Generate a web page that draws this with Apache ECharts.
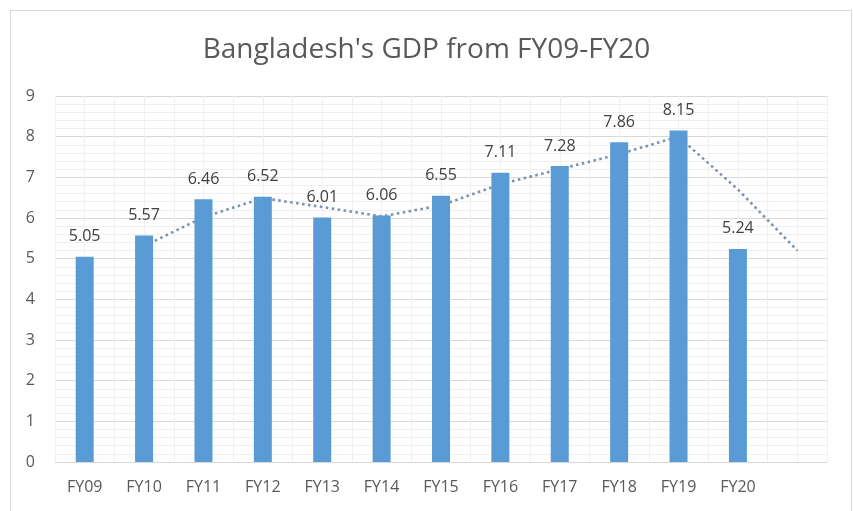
<!DOCTYPE html>
<html><head><meta charset="utf-8">
<script src="https://cdn.jsdelivr.net/npm/echarts@6/dist/echarts.min.js"></script>
<style>html,body{margin:0;padding:0;background:#fff}#c{width:853px;height:511px}</style>
</head><body><div id="c"></div>
<script>
const categories = ['FY09','FY10','FY11','FY12','FY13','FY14','FY15','FY16','FY17','FY18','FY19','FY20',''];
const gdpGrowth = [5.05,5.57,6.46,6.52,6.01,6.06,6.55,7.11,7.28,7.86,8.15,5.24,null];
const trendValues = [null,5.31,6.02,6.49,6.27,6.04,6.31,6.83,7.20,7.57,8.00,6.70,5.20];
const yTicks = [0,1,2,3,4,5,6,7,8,9];

const chart = echarts.init(document.getElementById('c'), null, {renderer:'canvas'});
const font = '"Open Sans", "Noto Sans", sans-serif';
chart.setOption({
  animation:false,
  backgroundColor:'#fff',
  graphic:[{type:'rect',shape:{x:10.5,y:10.5,width:841,height:520},style:{fill:'none',stroke:'#d9d9d9',lineWidth:1},silent:true}],
  title:{text:"Bangladesh's GDP from FY09-FY20",left:'center',top:31,
    textStyle:{fontFamily:font,fontSize:28,fontWeight:'normal',color:'#595959'}},
  grid:{left:55,right:26,top:96,bottom:49,containLabel:false},
  xAxis:[{type:'category',data:categories,boundaryGap:true,
    axisLine:{show:true,lineStyle:{color:'#d9d9d9'}},axisTick:{show:false},
    axisLabel:{fontFamily:font,fontSize:16,color:'#595959',margin:17,interval:0},
    splitLine:{show:true,lineStyle:{color:'#ececec',width:1}}},
   {type:'value',min:0,max:26,interval:1,show:true,position:'bottom',
    axisLine:{show:false},axisTick:{show:false},axisLabel:{show:false},
    splitLine:{show:true,lineStyle:{color:'#f0f0f0',width:1}}}],
  yAxis:{type:'value',min:yTicks[0],max:yTicks[yTicks.length-1],interval:1,
    axisLine:{show:false},axisTick:{show:false},
    axisLabel:{fontFamily:font,fontSize:16,color:'#595959',margin:20},
    splitLine:{show:true,lineStyle:{color:'#d9d9d9',width:1}},
    minorTick:{show:false,splitNumber:5},
    minorSplitLine:{show:true,lineStyle:{color:'#efefef',width:1}}},
  series:[
    {type:'line',data:trendValues,xAxisIndex:0,z:2,symbol:'none',connectNulls:false,
     lineStyle:{color:'#7d93ab',width:2.6,type:[2.6,3.4]}},
    {type:'bar',data:gdpGrowth,xAxisIndex:0,z:3,barWidth:18,
     itemStyle:{color:'#5b9bd5'},
     label:{show:true,position:'top',distance:12,fontFamily:font,fontSize:16,color:'#404040',
       formatter:p=>p.value==null?'':p.value.toFixed(2)}}
  ]
});
</script></body></html>
